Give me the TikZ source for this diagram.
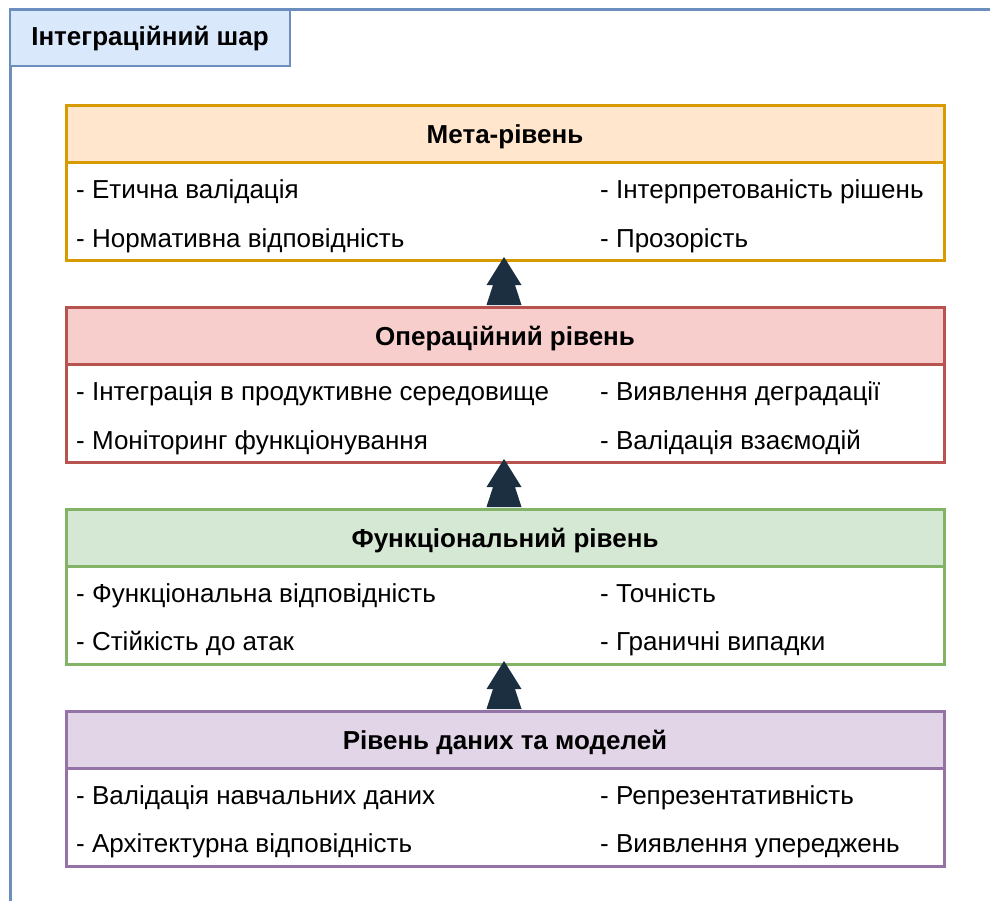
\documentclass[tikz,border=0pt]{standalone}
\usepackage{fontspec}
\setmainfont{Liberation Sans}
\usetikzlibrary{calc}

\definecolor{blueFill}{HTML}{DAE8FC}
\definecolor{blueLine}{HTML}{6C8EBF}
\definecolor{orangeFill}{HTML}{FFE6CC}
\definecolor{orangeLine}{HTML}{D79B00}
\definecolor{redFill}{HTML}{F8CECC}
\definecolor{redLine}{HTML}{B85450}
\definecolor{greenFill}{HTML}{D5E8D4}
\definecolor{greenLine}{HTML}{82B366}
\definecolor{purpleFill}{HTML}{E1D5E7}
\definecolor{purpleLine}{HTML}{9673A6}
\definecolor{arrowNavy}{HTML}{1B2F40}

\tikzset{
  txt/.style={font=\fontsize{26}{30}\selectfont, text=black, text height=18.5, text depth=0},
  boldtxt/.style={txt, font=\fontsize{26}{30}\selectfont\bfseries},
  contline/.style={draw=blueLine, line width=3pt},
  labelbox/.style={boldtxt, text depth=4, draw=blueLine, fill=blueFill,
    line width=2.8pt, minimum width=280, minimum height=56, inner sep=0pt},
  layerbody/.style={draw=#1, fill=white, line width=3pt,
    minimum width=878, minimum height=155, inner sep=0pt, anchor=north},
  layerhead/.style 2 args={draw=#1, fill=#2, line width=3pt, boldtxt,
    minimum width=878, minimum height=57, inner sep=0pt, anchor=north},
  item/.style={txt, anchor=west, inner sep=0pt},
  uparrow/.style={fill=arrowNavy, draw=none}
}

\begin{document}
\begin{tikzpicture}[x=1pt, y=-1pt]
\useasboundingbox (0,0) rectangle (990,901);

% outer integration container
\draw[contline] (10,901) -- (10,10) -- (990,10);
\node[labelbox] (title) at (150,38) {Інтеграційний шар};

% Meta level
\node[layerbody=orangeLine] (meta) at (505,104) {};
\node[layerhead={orangeLine}{orangeFill}] (metah) at (505,104) {Мета-рівень};
\node[item] (meta1) at (76,189) {- Етична валідація};
\node[item] (meta2) at (76,238) {- Нормативна відповідність};
\node[item] (meta3) at (600,189) {- Інтерпретованість рішень};
\node[item] (meta4) at (600,238) {- Прозорість};

% Operational level
\node[layerbody=redLine] (oper) at (505,306) {};
\node[layerhead={redLine}{redFill}] (operh) at (505,306) {Операційний рівень};
\node[item] (oper1) at (76,391) {- Інтеграція в продуктивне середовище};
\node[item] (oper2) at (76,440) {- Моніторинг функціонування};
\node[item] (oper3) at (600,391) {- Виявлення деградації};
\node[item] (oper4) at (600,440) {- Валідація взаємодій};

% Functional level
\node[layerbody=greenLine] (func) at (505,508) {};
\node[layerhead={greenLine}{greenFill}] (funch) at (505,508) {Функціональний рівень};
\node[item] (func1) at (76,593) {- Функціональна відповідність};
\node[item] (func2) at (76,641) {- Стійкість до атак};
\node[item] (func3) at (600,593) {- Точність};
\node[item] (func4) at (600,641) {- Граничні випадки};

% Data and models level
\node[layerbody=purpleLine] (data) at (505,710) {};
\node[layerhead={purpleLine}{purpleFill}] (datah) at (505,710) {Рівень даних та моделей};
\node[item] (data1) at (76,795) {- Валідація навчальних даних};
\node[item] (data2) at (76,843) {- Архітектурна відповідність};
\node[item] (data3) at (600,795) {- Репрезентативність};
\node[item] (data4) at (600,843) {- Виявлення упереджень};

% double-block arrows between the levels
\foreach \lo/\hi in {oper/meta, func/oper, data/func}{
  \coordinate (b) at ($(\lo.north)+(-1,-1)$);
  \coordinate (t) at ($(\hi.south)+(-1,-5)$);
  \fill[uparrow] (t) -- ($(b)+(-17.5,-20)$) -- ($(b)+(-11,-20)$) -- ($(b)+(-17.5,0)$)
    -- ($(b)+(17.5,0)$) -- ($(b)+(11,-20)$) -- ($(b)+(17.5,-20)$) -- cycle;
}
\end{tikzpicture}
\end{document}
